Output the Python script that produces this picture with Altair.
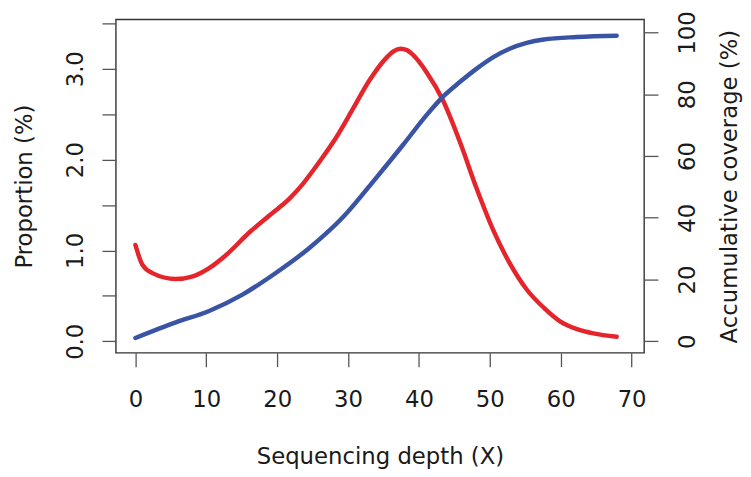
import altair as alt
import pandas as pd

# Proportion (%) curve (red, left axis)
depth_red = [0, 1, 2.4, 5.7, 8.1, 10.4, 12.8, 16.1, 18.9, 21.7, 23.6, 26.0, 28.3, 30.7,
             33.0, 35.4, 36.4, 37.4, 38.3, 39.2, 41.1, 43.4, 45.8, 48.1, 50.5, 52.8,
             55.2, 57.6, 59.9, 62.3, 64.6, 67.9]
proportion = [1.06, 0.84, 0.75, 0.685, 0.714, 0.805, 0.95, 1.20, 1.385, 1.567, 1.73, 1.98,
              2.24, 2.56, 2.87, 3.12, 3.19, 3.22, 3.205, 3.15, 2.96, 2.65, 2.19, 1.69,
              1.22, 0.86, 0.57, 0.37, 0.22, 0.134, 0.087, 0.05]

# Accumulative coverage (%) curve (blue, right axis)
depth_blue = [0, 5.7, 10.4, 15.1, 19.8, 24.5, 29.3, 34.0, 37.8, 41.1, 43.4, 45.8, 48.1,
              50.5, 52.8, 55.2, 57.6, 62.3, 67.9]
coverage = [1.06, 6.1, 9.8, 15.1, 22.1, 30.1, 40.2, 53.0, 63.7, 73.3, 79.2, 84.0, 88.2,
            92.0, 94.7, 96.6, 97.7, 98.5, 98.9]

x_ticks = [0, 10, 20, 30, 40, 50, 60, 70]
left_ticks = [0, 0.5, 1.0, 1.5, 2.0, 2.5, 3.0, 3.5]
right_ticks = [0, 20, 40, 60, 80, 100]

red_df = pd.DataFrame({"depth": depth_red, "proportion": proportion})
blue_df = pd.DataFrame({"depth": depth_blue, "coverage": coverage})

FONT = "DejaVu Sans"
TXT = "#1a1a1a"
W, H = 534, 337

x_enc = alt.X(
    "depth:Q",
    scale=alt.Scale(domain=[-2.76, 71.76], nice=False, zero=False),
    axis=alt.Axis(
        title="Sequencing depth (X)", values=x_ticks, format="d",
        tickSize=14, labelPadding=40, labelBaseline="alphabetic",
        titleBaseline="alphabetic", titleX=W / 2, titleY=112, titleAlign="center",
    ),
)

red = alt.Chart(red_df).mark_line(
    color="#E4262C", strokeWidth=4.5, strokeCap="round", strokeJoin="round",
    interpolate="monotone",
).encode(
    x=x_enc,
    y=alt.Y(
        "proportion:Q",
        scale=alt.Scale(domain=[-0.127, 3.543], nice=False, zero=False),
        axis=alt.Axis(
            orient="left", title="Proportion (%)", values=left_ticks,
            labelExpr="datum.value % 1 === 0 ? format(datum.value, '.1f') : ''",
            tickSize=14, labelAngle=270, labelAlign="center", labelBaseline="alphabetic",
            labelPadding=20, titleAngle=270, titleBaseline="alphabetic",
            titleAlign="center", titleX=-85, titleY=H / 2,
        ),
    ),
)

blue = alt.Chart(blue_df).mark_line(
    color="#3A54A5", strokeWidth=4.5, strokeCap="round", strokeJoin="round",
    interpolate="monotone",
).encode(
    x=x_enc,
    y=alt.Y(
        "coverage:Q",
        scale=alt.Scale(domain=[-3.75, 104.2], nice=False, zero=False),
        axis=alt.Axis(
            orient="right", title="Accumulative coverage (%)", values=right_ticks,
            format="d", tickSize=14, labelAngle=270, labelAlign="center",
            labelBaseline="alphabetic", labelPadding=37, titleAngle=270,
            titleBaseline="alphabetic", titleAlign="center", titleX=93, titleY=H / 2,
        ),
    ),
)

chart = alt.layer(red, blue).resolve_scale(y="independent").properties(
    width=W, height=H,
    autosize=alt.AutoSizeParams(type="none"),
    padding={"left": 109, "top": 9, "right": 100, "bottom": 123},
    background="white",
).configure_view(
    stroke="#333333", strokeWidth=1.4,
).configure_axis(
    grid=False, domain=False, tickColor="#555555", tickWidth=1.3,
    labelFont=FONT, labelFontSize=23, labelColor=TXT,
    titleFont=FONT, titleFontSize=23, titleColor=TXT, titleFontWeight="normal",
)

chart.save("out.html", embed_options={"renderer": "svg", "actions": False})
